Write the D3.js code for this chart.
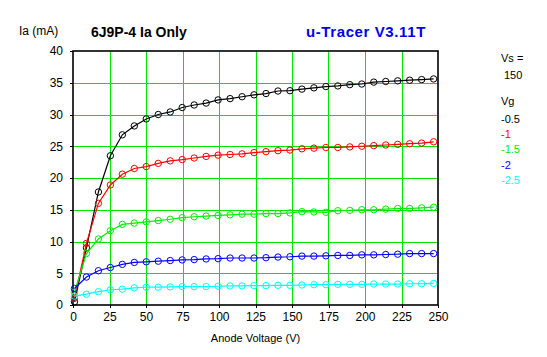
<!DOCTYPE html>
<html><head><meta charset="utf-8">
<script src="https://cdn.jsdelivr.net/npm/d3@7"></script>
<style>body{margin:0;background:#fff}svg{display:block}text{font-family:"Liberation Sans",Arial,sans-serif}</style>
</head><body>
<script>
const voltages = d3.range(31).map(i => +(1 + 8.2 * i).toFixed(1));
const seriesNames = ["-0.5", "-1", "-1.5", "-2", "-2.5"];
const seriesColors = ["#000000", "#ff0000", "#00ee00", "#0000ff", "#00ffff"];
const iaVg05 = [0.5, 9.0, 17.8, 23.5, 26.8, 28.2, 29.3, 30.0, 30.4, 31.1, 31.5, 31.8, 32.3, 32.5, 32.8, 33.1, 33.3, 33.7, 33.75, 34.0, 34.2, 34.4, 34.5, 34.7, 34.8, 35.1, 35.2, 35.3, 35.4, 35.5, 35.6];
const iaVg10 = [1.05, 9.7, 16.0, 18.9, 20.6, 21.5, 21.8, 22.3, 22.7, 22.9, 23.15, 23.4, 23.6, 23.7, 23.8, 24.0, 24.15, 24.3, 24.4, 24.6, 24.7, 24.8, 24.8, 24.9, 25.0, 25.1, 25.2, 25.3, 25.4, 25.5, 25.7];
const iaVg15 = [2.0, 8.1, 10.4, 11.7, 12.7, 12.9, 13.1, 13.3, 13.5, 13.75, 13.9, 14.0, 14.1, 14.2, 14.3, 14.3, 14.4, 14.4, 14.5, 14.7, 14.65, 14.6, 14.85, 14.9, 15.0, 15.0, 15.1, 15.2, 15.2, 15.3, 15.4];
const iaVg20 = [2.6, 4.4, 5.4, 5.9, 6.4, 6.7, 6.8, 6.9, 7.0, 7.1, 7.15, 7.25, 7.3, 7.4, 7.4, 7.4, 7.45, 7.55, 7.6, 7.7, 7.7, 7.75, 7.8, 7.8, 7.9, 7.9, 7.95, 8.0, 8.1, 8.1, 8.1];
const iaVg25 = [1.4, 1.7, 2.1, 2.4, 2.5, 2.7, 2.8, 2.8, 2.85, 2.9, 2.9, 2.9, 2.95, 3.0, 3.0, 3.05, 3.05, 3.1, 3.1, 3.15, 3.2, 3.2, 3.25, 3.25, 3.25, 3.3, 3.3, 3.3, 3.35, 3.35, 3.4];
const xTicks = [0, 25, 50, 75, 100, 125, 150, 175, 200, 225, 250];
const yTicks = [0, 5, 10, 15, 20, 25, 30, 35, 40];
const titleText = "6J9P-4 Ia Only";
const brandText = "u-Tracer V3.11T";
const yLabel = "Ia (mA)";
const xLabel = "Anode Voltage (V)";
const vsValue = "150";

const allSeries = [iaVg05, iaVg10, iaVg15, iaVg20, iaVg25];

const W = 547, H = 357;
const svg = d3.select("body").append("svg").attr("width", W).attr("height", H);
svg.append("rect").attr("width", W).attr("height", H).attr("fill", "#fff");

const x = d3.scaleLinear().domain([0, 250]).range([73, 438]);
const y = d3.scaleLinear().domain([0, 40]).range([305, 51]);

// grid
const grid = svg.append("g").attr("stroke", "#00e600").attr("stroke-width", 1).attr("shape-rendering", "crispEdges");
xTicks.slice(1, -1).forEach(t => grid.append("line").attr("x1", Math.round(x(t)) + 0.5).attr("x2", Math.round(x(t)) + 0.5).attr("y1", y(40)).attr("y2", y(0)));
yTicks.slice(1, -1).forEach(t => grid.append("line").attr("y1", Math.round(y(t)) + 0.5).attr("y2", Math.round(y(t)) + 0.5).attr("x1", x(0)).attr("x2", x(250)));

// axes
const xAxis = d3.axisBottom(x).tickValues(xTicks).tickSize(3).tickPadding(4).tickFormat(d3.format("d"));
const yAxis = d3.axisLeft(y).tickValues(yTicks).tickSize(3).tickPadding(7).tickFormat(d3.format("d"));
const gx = svg.append("g").attr("transform", `translate(0,${y(0)})`).call(xAxis);
const gy = svg.append("g").attr("transform", `translate(${x(0)},0)`).call(yAxis);
[gx, gy].forEach(g => {
  g.select(".domain").remove();
  g.selectAll("line").attr("stroke", "#000").attr("shape-rendering", "crispEdges");
  g.selectAll("text").attr("font-size", 12).attr("fill", "#000").attr("font-family", "Liberation Sans, Arial, sans-serif");
});
svg.append("rect").attr("x", x(0)).attr("y", y(40)).attr("width", x(250) - x(0)).attr("height", y(0) - y(40))
  .attr("fill", "none").attr("stroke", "#000").attr("stroke-width", 1.6);

// series
const line = d3.line().x((d, i) => x(voltages[i])).y(d => y(d));
allSeries.forEach((s, k) => {
  const g = svg.append("g");
  g.append("path").datum(s).attr("d", line).attr("fill", "none").attr("stroke", seriesColors[k]).attr("stroke-width", 1.2);
  g.selectAll("circle").data(s).join("circle")
    .attr("cx", (d, i) => x(voltages[i])).attr("cy", d => y(d)).attr("r", 3.2)
    .attr("fill", "none").attr("stroke", seriesColors[k]).attr("stroke-width", 1);
});

// texts
svg.append("text").attr("x", 19).attr("y", 35).attr("font-size", 12).text(yLabel);
svg.append("text").attr("x", 91).attr("y", 37).attr("font-size", 14).attr("font-weight", "bold").text(titleText);
svg.append("text").attr("x", 306).attr("y", 37).attr("font-size", 15).attr("font-weight", "bold").attr("fill", "#0000ee")
  .attr("font-family", "DejaVu Sans, sans-serif").attr("letter-spacing", 0.6).text(brandText);
svg.append("text").attr("x", x(125)).attr("y", 342).attr("text-anchor", "middle").attr("font-size", 11).text(xLabel);

svg.append("text").attr("x", 501).attr("y", 62).attr("font-size", 11).text("Vs =");
svg.append("text").attr("x", 504).attr("y", 79).attr("font-size", 11).text(vsValue);
svg.append("text").attr("x", 501).attr("y", 105).attr("font-size", 11).text("Vg");
seriesNames.forEach((n, k) => {
  svg.append("text").attr("x", 501).attr("y", 123 + k * 15.2).attr("font-size", 11).attr("fill", seriesColors[k]).text(n);
});
</script>
</body></html>
